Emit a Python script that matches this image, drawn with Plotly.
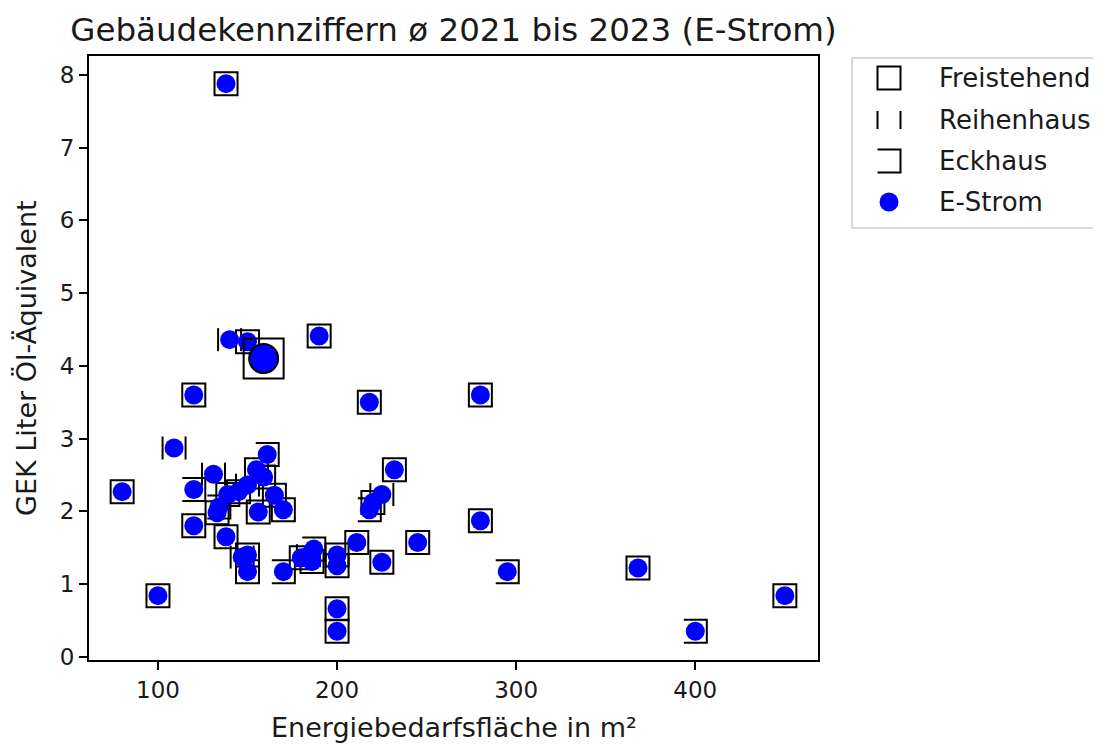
import plotly.graph_objects as go

# ---------------- data ----------------
area = [138, 80, 100, 120, 190, 218, 280, 280, 232, 245,
        295, 368, 400, 450, 200, 200, 220, 218, 225, 211,
        225, 180, 184, 187, 186, 200, 200, 170, 147, 150,
        150, 138, 120, 120, 131, 109, 140, 150, 161, 155,
        159, 150, 145, 139, 134, 133, 156, 165, 170]
gek = [7.88, 2.27, 0.84, 3.60, 4.41, 3.50, 3.60, 1.87, 2.57, 1.57,
       1.17, 1.22, 0.35, 0.84, 0.66, 0.35, 2.12, 2.02, 2.23, 1.57,
       1.30, 1.36, 1.39, 1.48, 1.31, 1.40, 1.25, 1.17, 1.37, 1.40,
       1.17, 1.65, 1.80, 2.30, 2.51, 2.87, 4.36, 4.33, 2.78, 2.57,
       2.47, 2.36, 2.27, 2.23, 2.06, 1.98, 1.99, 2.22, 2.02]
haustyp = ["F", "F", "F", "F", "F", "F", "F", "F", "F", "F",
           "E", "F", "E", "F", "F", "F", "F", "E", "R", "F",
           "F", "F", "R", "E", "F", "F", "F", "E", "R", "F",
           "F", "F", "F", "E", "R", "R", "R", "F", "E", "F",
           "F", "R", "F", "F", "E", "F", "F", "F", "F"]
highlight_area = [159]
highlight_gek = [4.10]

type_labels = ["Freistehend", "Reihenhaus", "Eckhaus", "E-Strom"]
title = "Gebäudekennziffern ø 2021 bis 2023 (E-Strom)"
x_title = "Energiebedarfsfläche in m²"
y_title = "GEK Liter Öl-Äquivalent"
x_ticks = [100, 200, 300, 400]
y_ticks = [0, 1, 2, 3, 4, 5, 6, 7, 8]

# ---------------- layout constants ----------------
OFF = 8                      # page body margin of the html page
W, H = 1101 - OFF, 744 - OFF
L, R, T, B = 81, 283, 48, 84
PW, PH = W - L - R, H - T - B
X_RANGE = [61.5, 468.5]
Y_RANGE = [-0.045, 8.26]
FONT = "DejaVu Sans"
TXT = "#1a1a1a"
HALF = 11.5  # half marker size in px

px_x = PW / (X_RANGE[1] - X_RANGE[0])
px_y = PH / (Y_RANGE[1] - Y_RANGE[0])
dx = HALF / px_x
dy = HALF / px_y


def pxx(v):
    """screen x (window pixels) -> paper x"""
    return (v - OFF - L) / PW


def pxy(v):
    """screen y (window pixels) -> paper y"""
    return (H - B - (v - OFF)) / PH


fig = go.Figure()

# Freistehend: open squares
fx = [a for a, t in zip(area, haustyp) if t == "F"]
fy = [g for g, t in zip(gek, haustyp) if t == "F"]
fig.add_trace(go.Scatter(x=fx, y=fy, mode="markers", name=type_labels[0],
                         marker=dict(symbol="square-open", size=2 * HALF,
                                     color="black", line=dict(width=2, color="black")),
                         hoverinfo="skip", showlegend=False))

# Reihenhaus: two vertical bars
rx, ry = [], []
for a, g, t in zip(area, gek, haustyp):
    if t == "R":
        rx += [a - dx, a - dx, None, a + dx, a + dx, None]
        ry += [g - dy, g + dy, None, g - dy, g + dy, None]
fig.add_trace(go.Scatter(x=rx, y=ry, mode="lines", name=type_labels[1],
                         line=dict(color="black", width=2),
                         hoverinfo="skip", showlegend=False))

# Eckhaus: bracket open on the left
ex, ey = [], []
for a, g, t in zip(area, gek, haustyp):
    if t == "E":
        ex += [a - dx, a + dx, a + dx, a - dx, None]
        ey += [g + dy, g + dy, g - dy, g - dy, None]
fig.add_trace(go.Scatter(x=ex, y=ey, mode="lines", name=type_labels[2],
                         line=dict(color="black", width=2),
                         hoverinfo="skip", showlegend=False))

# E-Strom dots
fig.add_trace(go.Scatter(x=area, y=gek, mode="markers", name=type_labels[3],
                         marker=dict(symbol="circle", size=19, color="#0000ff",
                                     line=dict(width=0)),
                         showlegend=False))

# highlighted building
fig.add_trace(go.Scatter(x=highlight_area, y=highlight_gek, mode="markers",
                         marker=dict(symbol="square-open", size=40, color="black",
                                     line=dict(width=2, color="black")),
                         hoverinfo="skip", showlegend=False))
fig.add_trace(go.Scatter(x=highlight_area, y=highlight_gek, mode="markers",
                         marker=dict(symbol="circle", size=29, color="#0000ff",
                                     line=dict(width=2, color="black")),
                         showlegend=False))

# ---------------- manual legend ----------------
shapes = []
annotations = []
shapes.append(dict(type="rect", xref="paper", yref="paper",
                   x0=pxx(852), x1=pxx(1115), y0=pxy(228), y1=pxy(58),
                   line=dict(color="#cccccc", width=1.5), fillcolor="white",
                   layer="above"))
rows = [78, 120, 161, 202]
sx = 889
h = 11.5
# square
shapes.append(dict(type="rect", xref="paper", yref="paper",
                   x0=pxx(sx - h), x1=pxx(sx + h), y0=pxy(rows[0] + h), y1=pxy(rows[0] - h),
                   line=dict(color="black", width=2), layer="above"))
# two bars
for bx in (sx - h, sx + h):
    shapes.append(dict(type="line", xref="paper", yref="paper",
                       x0=pxx(bx), x1=pxx(bx), y0=pxy(rows[1] + 9), y1=pxy(rows[1] - 9),
                       line=dict(color="black", width=2), layer="above"))
# bracket
shapes.append(dict(type="path", xref="paper", yref="paper",
                   path="M {:.5f} {:.5f} L {:.5f} {:.5f} L {:.5f} {:.5f} L {:.5f} {:.5f}".format(
                       pxx(sx - h), pxy(rows[2] - h), pxx(sx + h), pxy(rows[2] - h),
                       pxx(sx + h), pxy(rows[2] + h), pxx(sx - h), pxy(rows[2] + h)),
                   line=dict(color="black", width=2), layer="above"))
# dot
shapes.append(dict(type="circle", xref="paper", yref="paper",
                   x0=pxx(sx - 9.5), x1=pxx(sx + 9.5), y0=pxy(rows[3] + 9.5), y1=pxy(rows[3] - 9.5),
                   line=dict(width=0), fillcolor="#0000ff", layer="above"))
for lab, ry_ in zip(type_labels, rows):
    annotations.append(dict(text=lab, xref="paper", yref="paper", x=pxx(937), y=pxy(ry_),
                            xanchor="left", yanchor="middle", showarrow=False,
                            font=dict(family=FONT, size=26, color=TXT)))

annotations.append(dict(text=x_title, xref="paper", yref="paper", x=0.5, y=pxy(727),
                        xanchor="center", yanchor="middle", showarrow=False,
                        font=dict(family=FONT, size=27, color=TXT)))
annotations.append(dict(text=y_title, xref="paper", yref="paper", x=pxx(26), y=0.5,
                        xanchor="center", yanchor="middle", showarrow=False, textangle=-90,
                        font=dict(family=FONT, size=27, color=TXT)))

axis_common = dict(showline=True, linecolor="black", linewidth=2, mirror=True,
                   ticks="outside", ticklen=8, tickwidth=2, tickcolor="black",
                   showgrid=False, zeroline=False,
                   tickfont=dict(family=FONT, size=23, color=TXT))

fig.update_layout(
    width=W, height=H,
    margin=dict(l=L, r=R, t=T, b=B),
    paper_bgcolor="white", plot_bgcolor="white",
    title=dict(text=title, x=0.5, xref="paper", xanchor="center",
               y=1 - (30 - OFF) / H, yref="container", yanchor="middle",
               font=dict(family=FONT, size=32.5, color=TXT)),
    xaxis=dict(range=X_RANGE, tickvals=x_ticks, **axis_common),
    yaxis=dict(range=Y_RANGE, tickvals=y_ticks, **axis_common),
    shapes=shapes,
    annotations=annotations,
    showlegend=False,
)

fig.write_html("out.html")
